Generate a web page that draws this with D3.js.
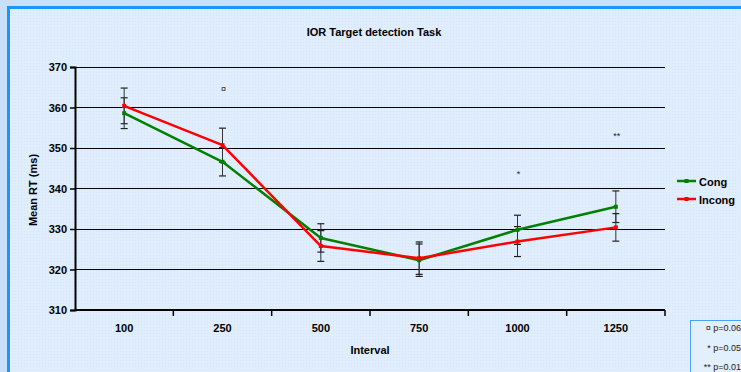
<!DOCTYPE html>
<html><head><meta charset="utf-8">
<script src="https://cdn.jsdelivr.net/npm/d3@7"></script>
<style>body{margin:0;background:#c8e0fa;overflow:hidden}svg{display:block}</style>
</head><body>
<svg id="c" width="741" height="372"></svg>
<script>
const categories = ["100","250","500","750","1000","1250"];
const congValues = [358.6, 346.6, 327.8, 322.3, 329.8, 335.5];
const congErrors = [3.8, 3.5, 3.5, 4.0, 3.6, 3.9];
const incongValues = [360.4, 350.7, 325.8, 322.8, 326.9, 330.4];
const incongErrors = [4.4, 4.2, 3.8, 4.0, 3.7, 3.4];
const yTicks = [310, 320, 330, 340, 350, 360, 370];
const sigMarks = [{cat:"250", value:364.5, text:"¤"},{cat:"1000", value:343.5, text:"*"},{cat:"1250", value:352.8, text:"**"}];
const sigLegend = ["¤ p=0.06", "* p=0.05", "** p=0.01"];
const seriesNames = ["Cong", "Incong"];
const colors = ["#008000", "#ff0000"];

const svg = d3.select("#c");
const font = "Liberation Sans, Arial, sans-serif";

const defs = svg.append("defs");
const pat = defs.append("pattern").attr("id","dots").attr("width",3).attr("height",3).attr("patternUnits","userSpaceOnUse");
pat.append("rect").attr("width",3).attr("height",3).attr("fill","#dfedfd");
pat.append("rect").attr("width",1).attr("height",1).attr("fill","#d4e6fb");

svg.append("rect").attr("x",8.5).attr("y",7.5).attr("width",760).attr("height",400)
  .attr("fill","url(#dots)").attr("stroke","#1a96ff").attr("stroke-width",3);

const x = d3.scaleBand().domain(categories).range([75, 665]);
const y = d3.scaleLinear().domain([310, 370]).range([310, 67]);
const cx = c => x(c) + x.bandwidth()/2;

// gridlines
svg.append("g").selectAll("line").data(yTicks.slice(1)).join("line")
  .attr("x1",75).attr("x2",665).attr("y1",d=>y(d)).attr("y2",d=>y(d))
  .attr("stroke","#000").attr("stroke-width",1).attr("shape-rendering","crispEdges");

// y axis
const ya = svg.append("g").attr("transform","translate(75,0)")
  .call(d3.axisLeft(y).tickValues(yTicks).tickSize(5).tickPadding(3));
ya.select(".domain").attr("stroke-width",2);
ya.selectAll("line").attr("stroke-width",1.5);
ya.selectAll("text").attr("font-family",font).attr("font-weight","bold").attr("font-size",11).attr("fill","#000");

// x axis
const xa = svg.append("g").attr("transform","translate(0,310)")
  .call(d3.axisBottom(x).tickSize(0).tickPadding(14));
xa.select(".domain").attr("stroke-width",2).attr("d","M75,0H665");
xa.selectAll("text").attr("font-family",font).attr("font-weight","bold").attr("font-size",11).attr("fill","#000");
svg.append("g").selectAll("line").data(d3.range(1, categories.length+1)).join("line")
  .attr("x1",i=>75+i*x.bandwidth()).attr("x2",i=>75+i*x.bandwidth())
  .attr("y1",310).attr("y2",316).attr("stroke","#000").attr("stroke-width",1.5);

// error bars
const series = [
  {name:seriesNames[0], values:congValues, errors:congErrors, color:colors[0]},
  {name:seriesNames[1], values:incongValues, errors:incongErrors, color:colors[1]}
];
series.forEach(s => {
  const g = svg.append("g");
  categories.forEach((c,i) => {
    const px = cx(c), top = y(s.values[i]+s.errors[i]), bot = y(s.values[i]-s.errors[i]);
    g.append("line").attr("x1",px).attr("x2",px).attr("y1",top).attr("y2",bot).attr("stroke","#333").attr("stroke-width",1);
    [top,bot].forEach(yy => g.append("line").attr("x1",px-3.5).attr("x2",px+3.5).attr("y1",yy).attr("y2",yy).attr("stroke","#222").attr("stroke-width",1.2));
  });
});

// lines
const line = d3.line().x((d,i)=>cx(categories[i])).y(d=>y(d));
series.forEach(s => {
  svg.append("path").datum(s.values).attr("d",line).attr("fill","none")
    .attr("stroke",s.color).attr("stroke-width",2.5).attr("stroke-linejoin","round");
  svg.append("g").selectAll("rect").data(s.values).join("rect")
    .attr("x",(d,i)=>cx(categories[i])-2).attr("y",d=>y(d)-2).attr("width",4).attr("height",4).attr("fill",s.color);
});

// significance marks
svg.append("g").selectAll("text").data(sigMarks).join("text")
  .attr("x",d=>cx(d.cat)+1).attr("y",d=>y(d.value)).attr("text-anchor","middle").attr("dominant-baseline","middle")
  .attr("font-family",font).attr("font-size",9).attr("fill","#222").text(d=>d.text);

// title
svg.append("text").attr("x",374).attr("y",36).attr("text-anchor","middle").attr("font-family",font)
  .attr("font-weight","bold").attr("font-size",11).text("IOR Target detection Task");
svg.append("text").attr("x",370).attr("y",354).attr("text-anchor","middle").attr("font-family",font)
  .attr("font-weight","bold").attr("font-size",11).text("Interval");
svg.append("text").attr("transform","translate(37,190) rotate(-90)").attr("text-anchor","middle").attr("font-family",font)
  .attr("font-weight","bold").attr("font-size",11).text("Mean RT (ms)");

// legend
const lg = svg.append("g");
series.forEach((s,i) => {
  const ly = 181 + i*18;
  lg.append("line").attr("x1",677).attr("x2",696).attr("y1",ly).attr("y2",ly).attr("stroke",s.color).attr("stroke-width",2.5);
  lg.append("rect").attr("x",684.5).attr("y",ly-2).attr("width",4).attr("height",4).attr("fill",s.color);
  lg.append("text").attr("x",699).attr("y",ly+4.5).attr("font-family",font).attr("font-weight","bold").attr("font-size",11).text(s.name);
});

// sig legend box
svg.append("rect").attr("x",690.5).attr("y",320.5).attr("width",80).attr("height",80).attr("fill","#e2effd").attr("stroke","#4aa3f2").attr("stroke-width",1);
svg.append("g").selectAll("text").data(sigLegend).join("text")
  .attr("x",741).attr("y",(d,i)=>331+i*19.5).attr("text-anchor","end")
  .attr("font-family",font).attr("font-size",9).attr("fill","#222").text(d=>d);
</script>
</body></html>
